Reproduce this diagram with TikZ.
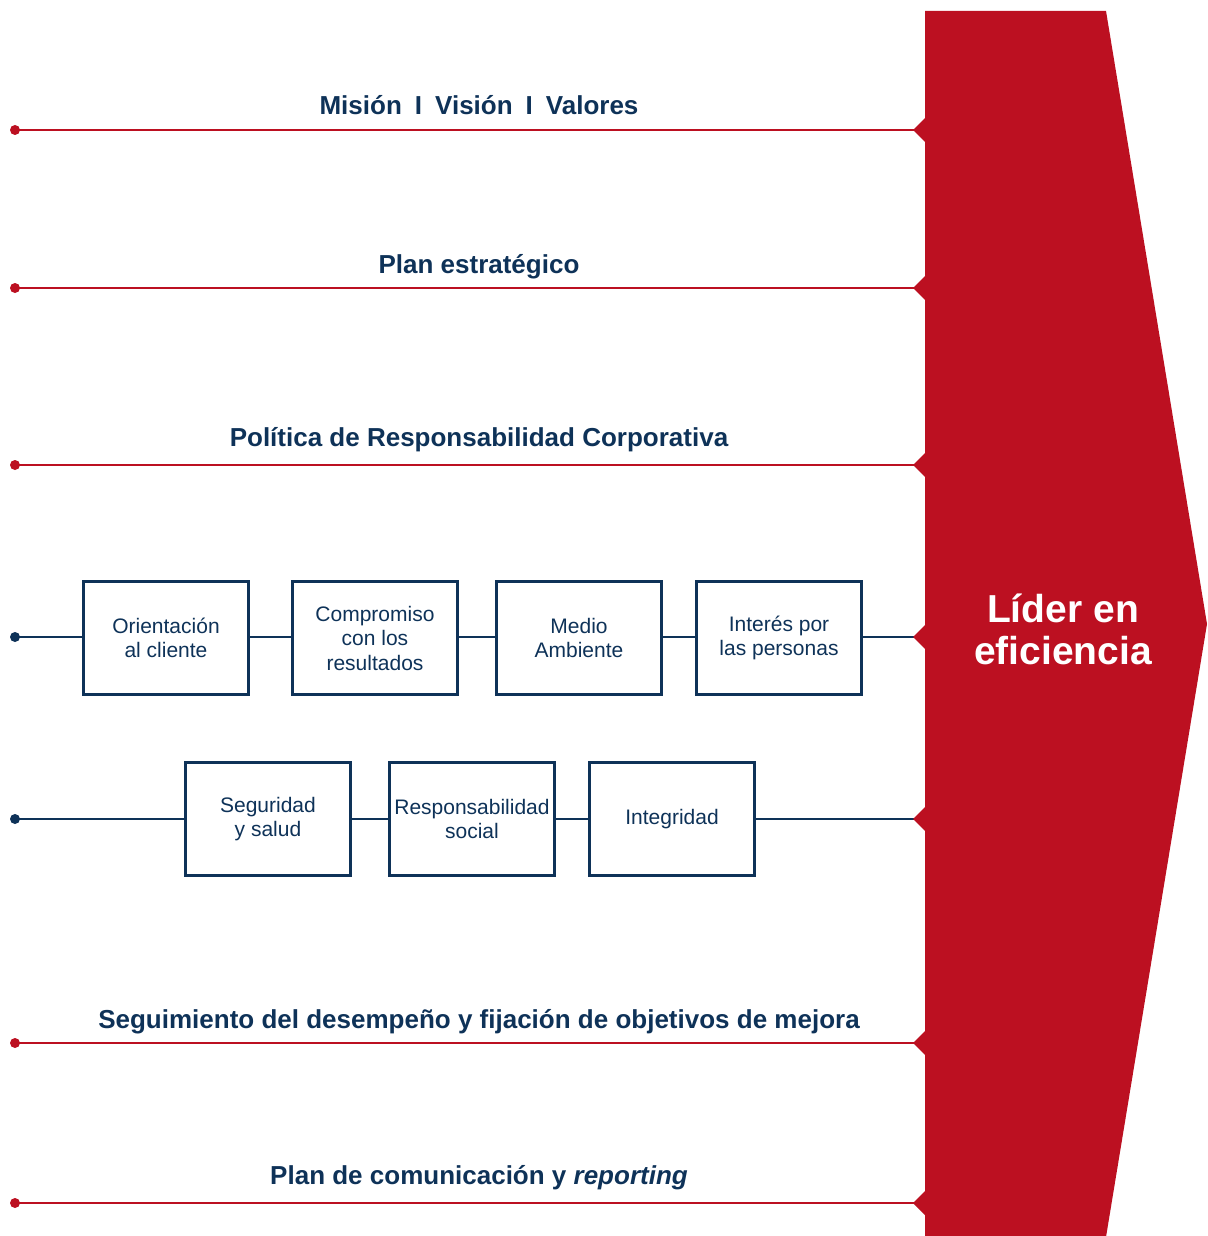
\documentclass[tikz,border=0pt]{standalone}
\usepackage{fontspec}
\setmainfont{Liberation Sans}
\definecolor{cred}{RGB}{188,16,33}
\definecolor{navy}{RGB}{14,50,88}
\begin{document}
\begin{tikzpicture}[x=1pt,y=-1pt,
  redline/.style={draw=cred, line width=2.7pt},
  navyline/.style={draw=navy, line width=2.8pt},
  box/.style={draw=navy, line width=2.8pt, minimum width=165pt, minimum height=113pt,
    align=center, text=navy, font=\fontsize{21}{24.5}\selectfont, inner sep=0pt},
  ttl/.style={text=navy, font=\fontsize{26}{30}\selectfont\bfseries, anchor=base, inner sep=0pt},
  big/.style={text=white, font=\fontsize{39}{42}\selectfont\bfseries, anchor=base, inner sep=0pt},
  dotr/.style={circle, fill=cred, inner sep=0pt, minimum size=10pt},
  dotn/.style={circle, fill=navy, inner sep=0pt, minimum size=10pt}]
\useasboundingbox (0,0) rectangle (1207,1236);

% red lines with titles
\foreach \n/\y in {a/130, b/288, c/465, d/1043, e/1203} {
  \node[dotr] (s\n) at (15,\y) {};
  \coordinate (t\n) at (915,\y);
  \draw[redline] (s\n.center) -- (t\n);
}
\node[ttl] (la) at (479,114) {Misión\hspace{13pt}I\hspace{13pt}Visión\hspace{13pt}I\hspace{13pt}Valores};
\node[ttl] (lb) at (479,273) {Plan estratégico};
\node[ttl] (lc) at (479,446) {Política de Responsabilidad Corporativa};
\node[ttl] (ld) at (479,1028) {Seguimiento del desempeño y fijación de objetivos de mejora};
\node[ttl] (le) at (479,1184) {Plan de comunicación y \textit{reporting}};

% row 1
\node[dotn] (r1s) at (15,637) {};
\coordinate (r1e) at (915,637);
\node[box] (b1) at (166,638) {Orientación\\al cliente};
\node[box] (b2) at (375,638) {Compromiso\\con los\\resultados};
\node[box] (b3) at (579,638) {Medio\\Ambiente};
\node[box] (b4) at (779,638) {Interés por\\las personas};
\draw[navyline] (r1s.center) -- (b1.west |- r1s) (b1.east |- r1s) -- (b2.west |- r1s)
  (b2.east |- r1s) -- (b3.west |- r1s) (b3.east |- r1s) -- (b4.west |- r1s)
  (b4.east |- r1s) -- (r1e);

% row 2
\node[dotn] (r2s) at (15,819) {};
\coordinate (r2e) at (915,819);
\node[box] (c1) at (268,819) {Seguridad\\y salud};
\node[box] (c2) at (472,819) {Responsabilidad\\social};
\node[box] (c3) at (672,819) {Integridad};
\draw[navyline] (r2s.center) -- (c1) -- (c2) -- (c3) -- (r2e);

% big red arrow with notches
\fill[cred] (925,11) -- (1106,11) -- (1207,624) -- (1106,1237) -- (925,1237)
  \foreach \y in {1203,1043,819,637,465,288,130} {
    -- (925,\y+12) -- (913,\y) -- (925,\y-12)
  } -- cycle;
\node[big] (h1) at (1063,622) {Líder en};
\node[big] (h2) at (1063,664) {eficiencia};
\end{tikzpicture}
\end{document}
